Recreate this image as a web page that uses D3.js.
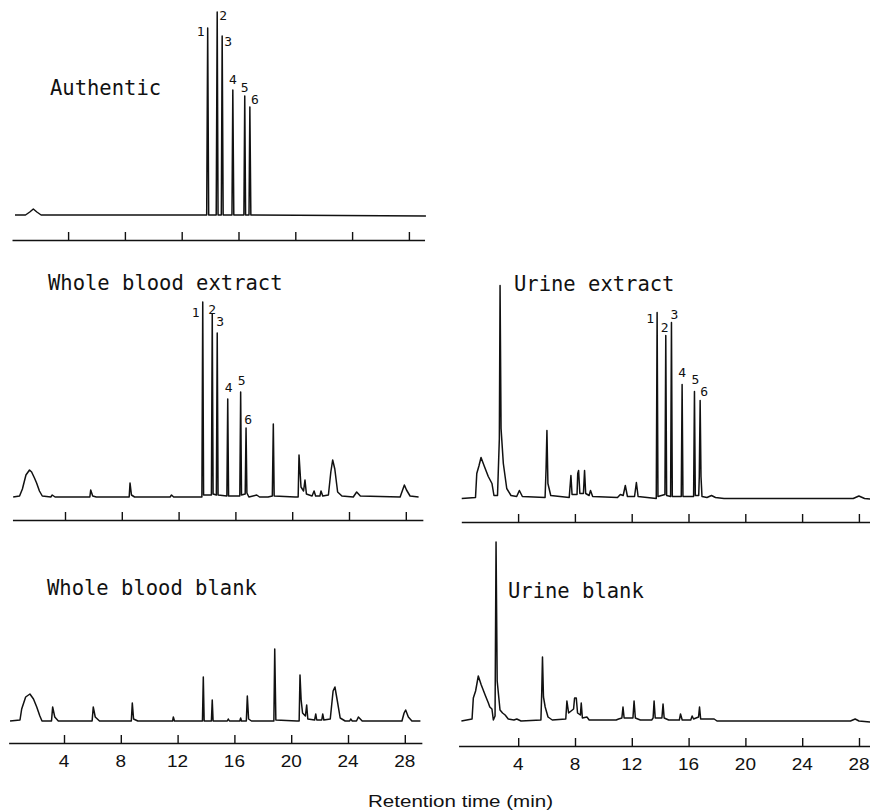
<!DOCTYPE html>
<html>
<head>
<meta charset="utf-8">
<script src="https://cdn.jsdelivr.net/npm/d3@7"></script>
<style>
  body { margin: 0; background: #fff; }
  svg { display: block; }
</style>
</head>
<body>
<svg id="chart" width="870" height="812"></svg>
<script>

// retention time ticks (min)
const tickValues = [4, 8, 12, 16, 20, 24, 28];
const peakNames = ["1", "2", "3", "4", "5", "6"];

// traces: [retention time (min), detector signal]
const authentic = [[0.26,0],[1.0,0],[1.3,3],[1.55,6],[1.8,3],[2.1,0],[13.76,0],[13.83,187],[13.9,0],[14.43,0],
  [14.5,203],[14.56,0],[14.79,0],[14.85,179],[14.92,0],[15.54,0],[15.6,125],[15.67,0],[16.38,0],[16.44,119],
  [16.5,0],[16.74,0],[16.8,108],[16.87,0],[29.2,-1]];

const wbExtract = [[0.35,0],[0.8,1],[1.0,8],[1.25,22],[1.5,27],[1.65,25],[1.85,19],[2.0,14],[2.2,6],[2.4,1],[3.0,0],
  [3.1,2],[3.3,0],[5.75,0],[5.81,7],[5.95,1],[6.2,0],[8.52,0],[8.58,14],[8.68,2],[8.9,0],[11.4,0],[11.5,2],
  [11.65,0],[13.64,0],[13.7,195],[13.76,2],[14.31,2],[14.37,183],[14.43,3],[14.66,2],[14.72,164],[14.78,2],
  [15.4,1],[15.46,98],[15.52,1],[16.31,1],[16.37,105],[16.43,2],[16.69,3],[16.75,69],[16.81,4],[16.95,0],
  [17.5,2],[17.7,0],[18.3,0],[18.6,1],[18.67,73],[18.73,1],[20.2,0],[20.42,0],[20.48,42],[20.62,10],[20.8,6],
  [20.9,17],[21.0,3],[21.4,1],[21.54,6],[21.65,1],[21.95,1],[22.03,6],[22.15,1],[22.55,2],[22.72,25],
  [22.85,37],[23.0,28],[23.2,5],[23.5,1],[24.3,0],[24.54,5],[24.8,1],[27.6,0],[27.8,8],[27.9,12],[28.05,7],
  [28.3,1],[28.9,0]];

const urExtract = [[0.03,0],[1.0,1],[1.09,25],[1.25,33],[1.39,41],[1.6,33],[1.9,22],[2.16,15],[2.3,3],[2.55,3],
  [2.68,60],[2.73,213],[2.8,70],[2.96,35],[3.2,10],[3.5,3],[3.9,2],[4.09,8],[4.3,2],[5.9,1],[5.97,30],[6.03,68],
  [6.1,15],[6.3,3],[7.6,1],[7.72,23],[7.8,4],[8.15,4],[8.2,25],[8.26,28],[8.35,5],[8.6,5],[8.68,28],[8.76,5],
  [9.0,3],[9.1,8],[9.25,2],[11.0,1],[11.2,4],[11.4,3],[11.55,13],[11.7,2],[12.2,2],[12.33,16],[12.45,2],
  [13.73,0],[13.79,186],[13.85,2],[14.34,4],[14.4,163],[14.46,3],[14.74,2],[14.8,176],[14.86,2],[15.49,2],
  [15.55,114],[15.61,2],[16.36,2],[16.42,107],[16.48,3],[16.72,3],[16.76,22],[16.82,98],[16.88,22],[16.95,2],
  [17.3,1],[17.62,3],[17.9,1],[18.5,0],[27.6,0],[28.0,2.5],[28.4,0],[28.83,-0.5]];

const wbBlank = [[0.2,0],[0.9,1],[1.02,12],[1.3,24],[1.6,27],[1.85,22],[2.08,14],[2.3,5],[2.45,0],[3.12,0],
  [3.2,14],[3.35,4],[3.6,0],[5.98,0],[6.06,14],[6.2,4],[6.5,0],[8.74,0],[8.81,18],[8.9,2],[9.2,0],[11.65,0],
  [11.7,4],[11.78,0],[13.75,0],[13.81,44],[13.87,0],[14.38,0],[14.44,21],[14.5,0],[15.5,0],[15.57,2],[15.65,0],
  [16.38,0],[16.44,3],[16.5,0],[16.84,0],[16.91,25],[17.0,2],[17.2,0],[18.78,0],[18.84,72],[18.92,1],[20.4,0],
  [20.56,0],[20.62,46],[20.7,21],[20.8,8],[21.0,5],[21.09,16],[21.17,2],[21.65,1],[21.73,7],[21.8,1],[22.15,1],
  [22.22,7],[22.3,1],[22.75,2],[22.95,30],[23.08,34],[23.25,20],[23.45,3],[23.8,0],[24.12,0],[24.19,2],[24.3,0],
  [24.6,0],[24.73,4],[25.0,0],[27.8,0],[27.95,8],[28.06,11],[28.25,4],[28.5,0],[29.1,0]];

const urBlank = [[0,0],[0.75,2],[0.84,23],[1.0,30],[1.19,45],[1.4,36],[1.7,25],[1.9,18],[2.0,14],[2.15,12],
  [2.25,1],[2.37,5],[2.44,179],[2.52,40],[2.72,11],[2.9,8],[3.08,6],[3.3,2],[3.7,1],[3.9,2],[4.2,0],[5.6,1],
  [5.66,30],[5.71,64],[5.78,24],[5.9,14],[6.1,4],[6.4,1],[7.35,2],[7.43,20],[7.55,8],[7.9,12],[7.97,23],
  [8.09,23],[8.18,8],[8.38,6],[8.44,18],[8.52,3],[8.84,4],[9.0,1],[10.9,1],[11.07,2],[11.3,3],[11.38,14],
  [11.46,3],[12.08,3],[12.16,20],[12.25,3],[12.6,1],[13.4,1],[13.5,3],[13.57,20],[13.65,3],[14.12,3],[14.2,17],
  [14.28,3],[14.6,1],[15.35,1],[15.43,7],[15.55,1],[16.15,1],[16.25,5],[16.35,2],[16.7,4],[16.77,14],[16.85,2],
  [17.3,2],[17.5,2],[17.8,2],[18.0,0],[27.4,0],[27.73,2],[28.0,0],[28.83,-1]];

// apex of numbered peaks: [time, signal]
const authenticPeaks = [[13.83,187],[14.5,203],[14.85,179],[15.6,125],[16.44,119],[16.8,108]];
const wbExtractPeaks = [[13.7,195],[14.37,183],[14.72,164],[15.46,98],[16.37,105],[16.75,69]];
const urExtractPeaks = [[13.79,186],[14.4,163],[14.8,176],[15.55,114],[16.42,107],[16.82,98]];

const pxPerMin = 14.2;

const panels = [
  { title: "Authentic", trace: authentic, peaks: authenticPeaks, x0: 11.3, base: 215, axisY: 240,
    from: 0.05, to: 29.1, tx: 50, ty: 95,
    offs: [[-7,3],[6,3],[6,5],[0,-11],[0,-9],[5,-8]] },
  { title: "Whole blood extract", trace: wbExtract, peaks: wbExtractPeaks, x0: 8.2, base: 497, axisY: 520,
    from: 0.3, to: 29.2, tx: 48, ty: 290,
    offs: [[-7,10],[0,-5],[3,-12],[1,-12],[1,-12],[2,-9]] },
  { title: "Urine extract", trace: urExtract, peaks: urExtractPeaks, x0: 461.3, base: 498.5, axisY: 522,
    from: 0, to: 28.9, tx: 514, ty: 291,
    offs: [[-7,6],[-1,-8],[3,-8],[0,-12],[1,-12],[4,-9]] },
  { title: "Whole blood blank", trace: wbBlank, peaks: null, x0: 7.2, base: 721, axisY: 743,
    from: 0.1, to: 29.2, tx: 47, ty: 595, labels: true },
  { title: "Urine blank", trace: urBlank, peaks: null, x0: 461.4, base: 721, axisY: 746,
    from: -0.2, to: 28.9, tx: 508, ty: 598, labels: true }
];

const svg = d3.select("#chart");

panels.forEach(function(p) {
  let x = d3.scaleLinear()
      .domain([p.from, p.to])
      .range([p.x0 + p.from * pxPerMin, p.x0 + p.to * pxPerMin]);
  let y = d3.scaleLinear()
      .domain([0, 220])
      .range([p.base, p.base - 220]);

  let g = svg.append("g");

  g.append("path")
    .datum(p.trace)
    .attr("fill", "none")
    .attr("stroke", "#111")
    .attr("stroke-width", 1.5)
    .attr("stroke-linejoin", "round")
    .attr("d", d3.line().x(d => x(d[0])).y(d => y(d[1])));

  let axis = g.append("g")
    .attr("transform", "translate(0," + p.axisY + ")")
    .call(d3.axisTop(x).tickValues(tickValues).tickSize(8).tickSizeOuter(0).tickFormat(""));
  axis.select(".domain").attr("stroke", "#111").attr("stroke-width", 1.4);
  axis.selectAll(".tick line").attr("stroke", "#111").attr("stroke-width", 1.4);

  if (p.labels) {
    g.selectAll("text.tl")
      .data(tickValues)
      .enter()
      .append("text")
      .attr("class", "tl")
      .attr("transform", d => "translate(" + x(d) + "," + (p.axisY + 24) + ") scale(1.15,1)")
      .attr("text-anchor", "middle")
      .attr("font-family", "'Liberation Sans', Arial, sans-serif")
      .attr("font-size", "16.5px")
      .attr("fill", "#111")
      .text(d => d);
  }

  g.append("text")
    .attr("x", p.tx)
    .attr("y", p.ty)
    .attr("font-family", "'DejaVu Sans Mono', monospace")
    .attr("font-size", "20.5px")
    .attr("fill", "#111")
    .text(p.title);

  if (p.peaks) {
    g.selectAll("text.pk")
      .data(p.peaks)
      .enter()
      .append("text")
      .attr("class", "pk")
      .attr("x", (d, i) => x(d[0]) + p.offs[i][0])
      .attr("y", (d, i) => y(d[1]) + p.offs[i][1])
      .attr("dy", "0.35em")
      .attr("text-anchor", "middle")
      .attr("font-family", "'DejaVu Sans Mono', monospace")
      .attr("font-size", "13px")
      .attr("fill", "#111")
      .text((d, i) => peakNames[i]);
  }
});

svg.append("text")
  .attr("x", 368)
  .attr("y", 807)
  .attr("textLength", 185)
  .attr("lengthAdjust", "spacingAndGlyphs")
  .attr("font-family", "'Liberation Sans', Arial, sans-serif")
  .attr("font-size", "16px")
  .attr("fill", "#111")
  .text("Retention time (min)");

</script>
</body>
</html>
